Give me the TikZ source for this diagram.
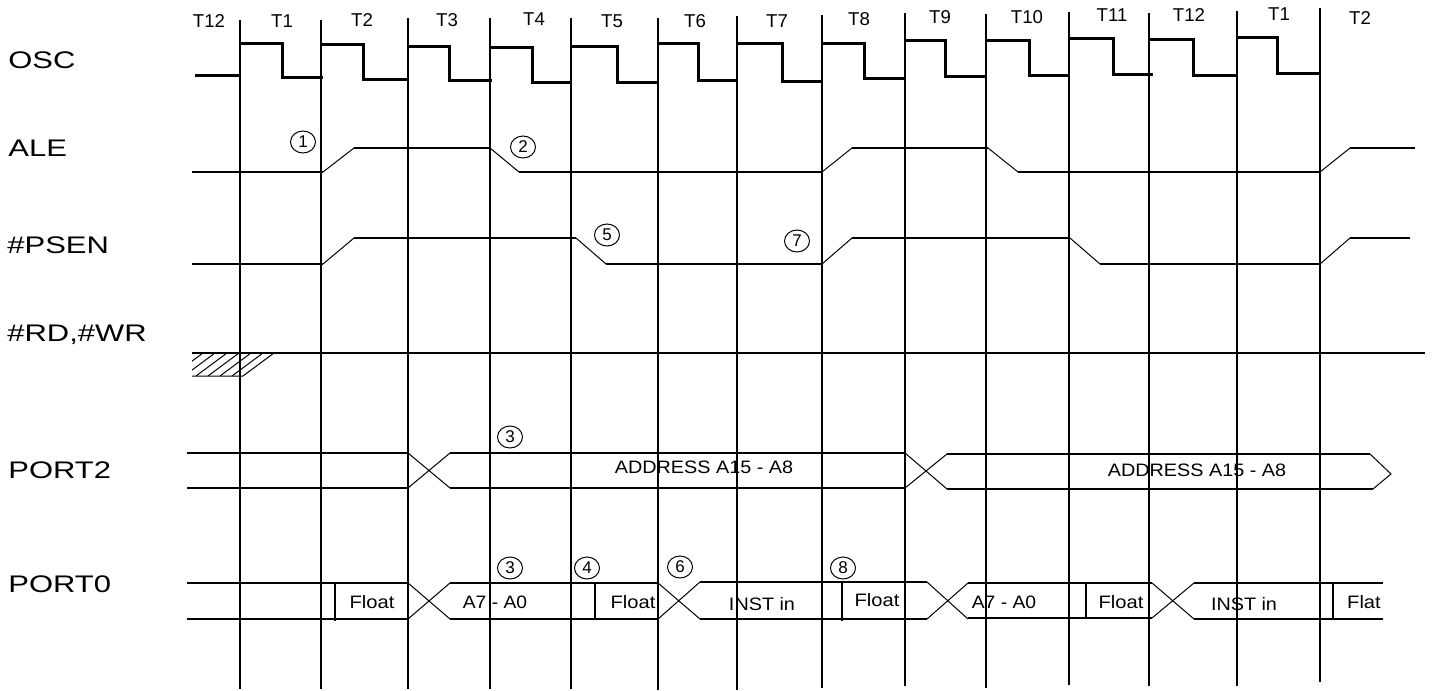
\documentclass[tikz,border=0pt]{standalone}
\usepackage{fontspec}
\usepackage{graphicx}
\setmainfont{Liberation Sans}
\usetikzlibrary{shapes.geometric}
\newcommand\sx[2]{\scalebox{#1}[1]{#2}}
\begin{document}
\begin{tikzpicture}[x=0.5pt,y=-0.5pt,
  gridline/.style={line width=1.25pt},
  osc/.style={line width=1.5pt},
  sig/.style={line width=1pt},
  edge/.style={line width=0.5pt},
  bus/.style={line width=1pt},
  lbl/.style={font=\fontsize{12}{14}\selectfont, anchor=base west, inner sep=0pt},
  tl/.style={font=\fontsize{9.3}{11}\selectfont, inner sep=0pt},
  bt/.style={font=\fontsize{9}{11}\selectfont, inner sep=0pt},
  num/.style={draw, ellipse, line width=0.5pt, minimum width=12.5pt, minimum height=11pt, inner sep=0pt, font=\fontsize{8.5}{10}\selectfont}]
\useasboundingbox (0,0) rectangle (1437,691);

% row labels
\node[lbl] (lOSC) at (8,68) {\sx{1.29}{OSC}};
\node[lbl] (lALE) at (8,156) {\sx{1.29}{ALE}};
\node[lbl] (lPSEN) at (7,253) {\sx{1.29}{\#PSEN}};
\node[lbl] (lRD) at (7,341) {\sx{1.29}{\#RD,\#WR}};
\node[lbl] (lP2) at (8,478) {\sx{1.29}{PORT2}};
\node[lbl] (lP0) at (8,592) {\sx{1.29}{PORT0}};

% T labels
\foreach \x/\y/\t [count=\i] in {209/21/T12,282/21/T1,362/20/T2,447/20/T3,534/19/T4,612/21/T5,695/21/T6,777/21/T7,859/19/T8,940/17/T9,1027/17/T10,1112/15/T11,1189/15/T12,1279/14/T1,1360/18/T2}
  \node[tl] (t\i) at (\x,\y) {\t};

% vertical grid lines
\foreach \x/\t/\b in {240/20/689,321/20/689,408/18/689,490/18/689,571/18/689,658/18/690,737/16/690,822/15/688,905/13/686,986/14/688,1069/12/685,1149/13/686,1237/11/686,1320/8/682}
  \draw[gridline] (\x,\t) -- (\x,\b);

% OSC
\draw[osc] (195,75) -- (240,75);
\foreach \s/\h/\f/\l/\e in {240/43/282/77/323,321/44/363/79/408,408/46/449/80/492,490/47/532/82/571,571/46/617/82/658,658/43/698/80/737,737/43/782/81/822,822/43/864/78/905,905/40/945/76/986,986/40/1029/75/1069,1069/38/1113/74/1153,1149/39/1193/75/1237,1237/37/1277/73/1320}
  \draw[osc] (\s,\h) -- (\f,\h) -- (\f,\l) -- (\e,\l);

% ALE
\draw[sig] (192,172) -- (323,172);
\draw[edge] (323,172) -- (354,148);
\draw[sig] (354,148) -- (490,148);
\draw[edge] (490,148) -- (519,172);
\draw[sig] (519,172) -- (822,172);
\draw[edge] (822,172) -- (852,148);
\draw[sig] (852,148) -- (988,148);
\draw[edge] (988,148) -- (1018,172);
\draw[sig] (1018,172) -- (1320,172);
\draw[edge] (1320,172) -- (1350,148);
\draw[sig] (1350,148) -- (1415,148);

% #PSEN
\draw[sig] (192,264) -- (323,264);
\draw[edge] (323,264) -- (354,238);
\draw[sig] (354,238) -- (576,238);
\draw[edge] (576,238) -- (606,264);
\draw[sig] (606,264) -- (822,264);
\draw[edge] (822,264) -- (852,238);
\draw[sig] (852,238) -- (1070,238);
\draw[edge] (1070,238) -- (1100,264);
\draw[sig] (1100,264) -- (1320,264);
\draw[edge] (1320,264) -- (1350,238);
\draw[sig] (1350,238) -- (1410,238);

% #RD,#WR
\draw[sig] (192,353) -- (1425,353);
\draw[edge] (192,376) -- (243,376) -- (274,353);
\begin{scope}
  \clip (192,353) -- (274,353) -- (243,376) -- (192,376) -- cycle;
  \foreach \x in {160,172,...,244}
    \draw[edge] (\x,376) -- (\x+31,353);
\end{scope}

% PORT2
\draw[bus] (187,453) -- (408,453);
\draw[bus] (187,488) -- (408,488);
\draw[edge] (408,453) -- (450,488);
\draw[edge] (408,488) -- (450,453);
\draw[bus] (450,453) -- (905,453);
\draw[bus] (450,488) -- (905,488);
\draw[edge] (905,453) -- (947,489);
\draw[edge] (905,488) -- (947,454);
\draw[bus] (947,454) -- (1370,454);
\draw[bus] (947,489) -- (1373,489);
\draw[edge] (1370,454) -- (1391,474) -- (1373,489);
\node[bt] (addr1) at (704,467) {\sx{1.1}{ADDRESS A15 - A8}};
\node[bt] (addr2) at (1197,470) {\sx{1.1}{ADDRESS A15 - A8}};

% PORT0
\draw[bus] (187,583) -- (408,583);
\draw[bus] (187,619) -- (408,619);
\draw[sig] (335,583) -- (335,621);
\draw[edge] (408,583) -- (450,619);
\draw[edge] (408,619) -- (450,583);
\draw[bus] (450,583) -- (658,583);
\draw[bus] (450,619) -- (658,619);
\draw[sig] (595,583) -- (595,619);
\draw[edge] (658,583) -- (700,619);
\draw[edge] (658,619) -- (700,582);
\draw[edge,line width=0.7pt] (700,582) -- (927,582);
\draw[edge,line width=0.7pt] (700,619) -- (927,619);
\draw[sig] (842,582) -- (842,621);
\draw[edge] (927,582) -- (968,619);
\draw[edge] (927,619) -- (968,583);
\draw[bus] (968,583) -- (1152,583);
\draw[bus] (968,618) -- (1152,618);
\draw[sig] (1086,583) -- (1086,618);
\draw[edge] (1152,583) -- (1194,619);
\draw[edge] (1152,618) -- (1194,583);
\draw[bus] (1194,583) -- (1383,583);
\draw[bus] (1194,619) -- (1383,619);
\draw[sig] (1333,583) -- (1333,619);

\node[bt] (f1) at (372,602) {\sx{1.12}{Float}};
\node[bt] (a1) at (495,602) {\sx{1.07}{A7 - A0}};
\node[bt] (f2) at (633,602) {\sx{1.12}{Float}};
\node[bt] (i1) at (762,604) {\sx{1.1}{INST in}};
\node[bt] (f3) at (877,600) {\sx{1.12}{Float}};
\node[bt] (a2) at (1004,602) {\sx{1.07}{A7 - A0}};
\node[bt] (f4) at (1121,602) {\sx{1.12}{Float}};
\node[bt] (i2) at (1244,604) {\sx{1.1}{INST in}};
\node[bt] (f5) at (1364,602) {\sx{1.12}{Flat}};

% circled numbers
\node[num] (n1) at (303,142) {1};
\node[num] (n2) at (523,147) {2};
\node[num] (n5) at (607,235) {5};
\node[num] (n7) at (797,241) {7};
\node[num] (n3a) at (510,437) {3};
\node[num] (n3b) at (510,568) {3};
\node[num] (n4) at (587,568) {4};
\node[num] (n6) at (680,567) {6};
\node[num] (n8) at (843,568) {8};
\end{tikzpicture}
\end{document}
